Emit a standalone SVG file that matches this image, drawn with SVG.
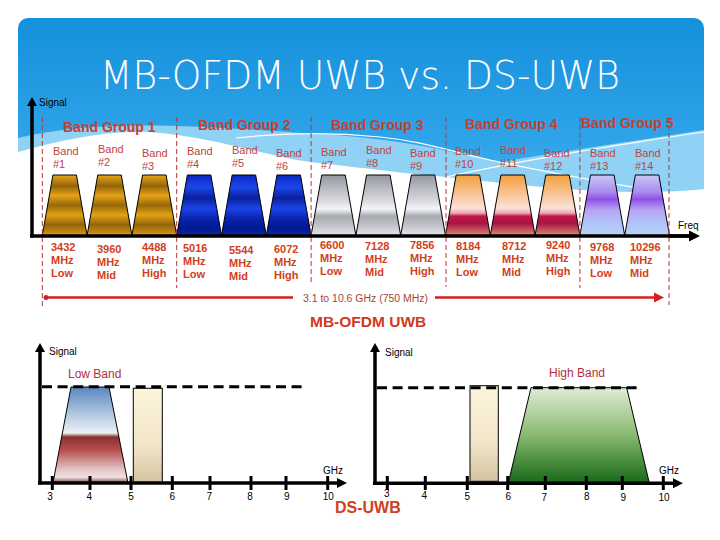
<svg xmlns="http://www.w3.org/2000/svg" xmlns:xlink="http://www.w3.org/1999/xlink" width="720" height="540" viewBox="0 0 720 540">
<style>
text{font-family:"Liberation Sans",Arial,sans-serif}
.grp{font-size:14px;font-weight:bold;fill:#c8402c}
.bl{font-size:11px;fill:#c0443a}
.fq{font-size:11px;font-weight:bold;fill:#d04020}
.sm{font-size:10px;fill:#000}
.ax{stroke:#000;stroke-width:3.5;fill:none}
.tk{stroke:#000;stroke-width:3}
.vd{stroke:#c03030;stroke-width:1;stroke-dasharray:5 3}
.dash{stroke:#000;stroke-width:3;stroke-dasharray:10 5.6}
.bar{stroke:#000;stroke-width:1}
</style>
<defs>
<linearGradient id="hdr" x1="0" y1="0" x2="0" y2="1"><stop offset="0" stop-color="#1590dc"/><stop offset="0.5" stop-color="#2ea3e8"/><stop offset="1" stop-color="#5cbcf0"/></linearGradient>
<linearGradient id="g1" x1="0" y1="0" x2="0" y2="1"><stop offset="0" stop-color="#e6a818"/><stop offset="0.18" stop-color="#94640a"/><stop offset="0.34" stop-color="#e4a416"/><stop offset="0.5" stop-color="#98680a"/><stop offset="0.66" stop-color="#e2a214"/><stop offset="0.82" stop-color="#946408"/><stop offset="1" stop-color="#d89a14"/></linearGradient>
<linearGradient id="g2" x1="0" y1="0" x2="0" y2="1"><stop offset="0" stop-color="#0a28c0"/><stop offset="0.2" stop-color="#1c46ea"/><stop offset="0.38" stop-color="#08209c"/><stop offset="0.55" stop-color="#1c44e6"/><stop offset="0.72" stop-color="#0a24b0"/><stop offset="0.88" stop-color="#001890"/><stop offset="1" stop-color="#0a2aa8"/></linearGradient>
<linearGradient id="g3" x1="0" y1="0" x2="0" y2="1"><stop offset="0" stop-color="#94989f"/><stop offset="0.45" stop-color="#dcdde2"/><stop offset="0.56" stop-color="#f6f6f8"/><stop offset="0.68" stop-color="#a8aab2"/><stop offset="0.85" stop-color="#c4c6cc"/><stop offset="1" stop-color="#e6e6ea"/></linearGradient>
<linearGradient id="g4" x1="0" y1="0" x2="0" y2="1"><stop offset="0" stop-color="#f4a040"/><stop offset="0.3" stop-color="#f8c290"/><stop offset="0.55" stop-color="#fae2da"/><stop offset="0.63" stop-color="#f0a4b4"/><stop offset="0.68" stop-color="#c01848"/><stop offset="0.8" stop-color="#a81448"/><stop offset="0.92" stop-color="#c85a60"/><stop offset="1" stop-color="#e0906a"/></linearGradient>
<linearGradient id="g5" x1="0" y1="0" x2="0" y2="1"><stop offset="0" stop-color="#c8c8f4"/><stop offset="0.28" stop-color="#aa8cf0"/><stop offset="0.4" stop-color="#9050e8"/><stop offset="0.58" stop-color="#b8a4f2"/><stop offset="0.8" stop-color="#b0c4f8"/><stop offset="1" stop-color="#b8d0f8"/></linearGradient>
<linearGradient id="lowb" x1="0" y1="0" x2="0" y2="1"><stop offset="0" stop-color="#5a88c0"/><stop offset="0.48" stop-color="#eef2f6"/><stop offset="0.52" stop-color="#8c3030"/><stop offset="0.66" stop-color="#b85050"/><stop offset="0.85" stop-color="#e0c0c0"/><stop offset="0.94" stop-color="#f0e2e2"/><stop offset="1" stop-color="#7a4040"/></linearGradient>
<linearGradient id="beige" x1="0" y1="0" x2="0" y2="1"><stop offset="0" stop-color="#fdf4dc"/><stop offset="0.6" stop-color="#f2e6c8"/><stop offset="1" stop-color="#d2c2a0"/></linearGradient>
<linearGradient id="green" x1="0" y1="0" x2="0" y2="1"><stop offset="0" stop-color="#e0ecd6"/><stop offset="0.5" stop-color="#88b870"/><stop offset="1" stop-color="#186818"/></linearGradient>
<polygon id="tz" points="0,60.5 10.65,0 34.15,0 44.8,60.5"/>
</defs>

<g id="header">
<rect x="18" y="18" width="686" height="240" rx="10" fill="url(#hdr)"/>
<path d="M18,138 C100,118 200,126 318,134 C400,138 450,152 500,162 C560,152 640,140 704,130 L704,260 L18,260 Z" fill="#8fd2f6"/>
<path d="M18,152 C60,140 110,130 150,132 C220,138 260,155 310,162 C380,170 420,175 446,177 C500,183 550,189 600,191 C640,193 680,192 704,189 L704,262 L18,262 Z" fill="#fff"/>
<path d="M236,138 C280,133 330,132 380,137 C420,141 446,150 490,160 C560,175 620,185 668,193" fill="none" stroke="#fff" stroke-width="1.2"/>
<path d="M446,177 C500,165 560,155 600,148 C640,142 680,135 704,132" fill="none" stroke="#fff" stroke-width="1.2"/>
<text x="100" y="89" font-size="39" font-weight="200" fill="#fff" textLength="520" lengthAdjust="spacingAndGlyphs" style="font-family:'DejaVu Sans','Liberation Sans',sans-serif">MB-OFDM UWB vs. DS-UWB</text>
</g>

<g id="mbofdm-bands">
<g stroke="#000" stroke-width="1">
<use xlink:href="#tz" x="42.3" y="175" fill="url(#g1)"/>
<use xlink:href="#tz" x="87.1" y="175" fill="url(#g1)"/>
<use xlink:href="#tz" x="131.9" y="175" fill="url(#g1)"/>
<use xlink:href="#tz" x="176.7" y="175" fill="url(#g2)"/>
<use xlink:href="#tz" x="221.5" y="175" fill="url(#g2)"/>
<use xlink:href="#tz" x="266.3" y="175" fill="url(#g2)"/>
<use xlink:href="#tz" x="311.1" y="175" fill="url(#g3)"/>
<use xlink:href="#tz" x="355.9" y="175" fill="url(#g3)"/>
<use xlink:href="#tz" x="400.7" y="175" fill="url(#g3)"/>
<use xlink:href="#tz" x="445.5" y="175" fill="url(#g4)"/>
<use xlink:href="#tz" x="490.3" y="175" fill="url(#g4)"/>
<use xlink:href="#tz" x="535.1" y="175" fill="url(#g4)"/>
<use xlink:href="#tz" x="579.9" y="175" fill="url(#g5)"/>
<use xlink:href="#tz" x="624.7" y="175" fill="url(#g5)"/>
</g>
</g>

<g id="group-dividers">
<line class="vd" x1="42.3" y1="117" x2="42.3" y2="307"/>
<line class="vd" x1="176.7" y1="117" x2="176.7" y2="288"/>
<line class="vd" x1="311.1" y1="117" x2="311.1" y2="285"/>
<line class="vd" x1="446" y1="117" x2="446" y2="287"/>
<line class="vd" x1="579.9" y1="117" x2="579.9" y2="288"/>
<line class="vd" x1="669" y1="117" x2="669" y2="305"/>
</g>

<g id="top-axes">
<line class="ax" x1="32" y1="104" x2="32" y2="237.5" stroke-width="4"/>
<polygon points="32,97 27,106 37,106"/>
<line class="ax" x1="30" y1="236" x2="690" y2="236" stroke-width="3"/>
<line class="ax" x1="669" y1="236" x2="690" y2="236" stroke-width="4.5"/>
<polygon points="700,236 689,230.5 689,241.5"/>
<text class="sm" x="39" y="106">Signal</text>
<text class="sm" x="678" y="229">Freq</text>
</g>

<g id="group-labels">
<text class="grp" x="63" y="131.5">Band Group 1</text>
<text class="grp" x="198" y="130">Band Group 2</text>
<text class="grp" x="331" y="130">Band Group 3</text>
<text class="grp" x="465" y="128.5">Band Group 4</text>
<text class="grp" x="581" y="127.5">Band Group 5</text>
</g>

<g id="band-labels" class="bl">
<text class="bl" x="53" y="155">Band<tspan x="53" dy="13">#1</tspan></text>
<text class="bl" x="98" y="153">Band<tspan x="98" dy="13">#2</tspan></text>
<text class="bl" x="142" y="157">Band<tspan x="142" dy="13">#3</tspan></text>
<text class="bl" x="187" y="155">Band<tspan x="187" dy="13">#4</tspan></text>
<text class="bl" x="232" y="154">Band<tspan x="232" dy="13">#5</tspan></text>
<text class="bl" x="276" y="157">Band<tspan x="276" dy="13">#6</tspan></text>
<text class="bl" x="321" y="156">Band<tspan x="321" dy="13">#7</tspan></text>
<text class="bl" x="366" y="154">Band<tspan x="366" dy="13">#8</tspan></text>
<text class="bl" x="410" y="157">Band<tspan x="410" dy="13">#9</tspan></text>
<text class="bl" x="455" y="155">Band<tspan x="455" dy="13">#10</tspan></text>
<text class="bl" x="500" y="154">Band<tspan x="500" dy="13">#11</tspan></text>
<text class="bl" x="544" y="157">Band<tspan x="544" dy="13">#12</tspan></text>
<text class="bl" x="590" y="157">Band<tspan x="590" dy="13">#13</tspan></text>
<text class="bl" x="635" y="157">Band<tspan x="635" dy="13">#14</tspan></text>
</g>

<g id="freq-labels">
<text class="fq" x="51" y="251">3432<tspan x="51" dy="13">MHz</tspan><tspan x="51" dy="13">Low</tspan></text>
<text class="fq" x="97" y="252.5">3960<tspan x="97" dy="13">MHz</tspan><tspan x="97" dy="13">Mid</tspan></text>
<text class="fq" x="142" y="250.5">4488<tspan x="142" dy="13">MHz</tspan><tspan x="142" dy="13">High</tspan></text>
<text class="fq" x="183" y="252">5016<tspan x="183" dy="13">MHz</tspan><tspan x="183" dy="13">Low</tspan></text>
<text class="fq" x="229" y="253.5">5544<tspan x="229" dy="13">MHz</tspan><tspan x="229" dy="13">Mid</tspan></text>
<text class="fq" x="274" y="253">6072<tspan x="274" dy="13">MHz</tspan><tspan x="274" dy="13">High</tspan></text>
<text class="fq" x="320" y="249">6600<tspan x="320" dy="13">MHz</tspan><tspan x="320" dy="13">Low</tspan></text>
<text class="fq" x="365" y="249.5">7128<tspan x="365" dy="13">MHz</tspan><tspan x="365" dy="13">Mid</tspan></text>
<text class="fq" x="410" y="248.5">7856<tspan x="410" dy="13">MHz</tspan><tspan x="410" dy="13">High</tspan></text>
<text class="fq" x="456" y="249.5">8184<tspan x="456" dy="13">MHz</tspan><tspan x="456" dy="13">Low</tspan></text>
<text class="fq" x="502" y="249.5">8712<tspan x="502" dy="13">MHz</tspan><tspan x="502" dy="13">Mid</tspan></text>
<text class="fq" x="546" y="248.5">9240<tspan x="546" dy="13">MHz</tspan><tspan x="546" dy="13">High</tspan></text>
<text class="fq" x="590" y="250.5">9768<tspan x="590" dy="13">MHz</tspan><tspan x="590" dy="13">Low</tspan></text>
<text class="fq" x="630" y="251">10296<tspan x="630" dy="13">MHz</tspan><tspan x="630" dy="13">Mid</tspan></text>
</g>

<g id="range-arrow">
<line x1="44" y1="297.5" x2="293" y2="297.5" stroke="#d42020" stroke-width="2.5"/>
<circle cx="46" cy="297.5" r="2.5" fill="#d42020"/>
<line x1="435" y1="297.5" x2="656" y2="297.5" stroke="#d42020" stroke-width="2.5"/>
<polygon points="664,297.5 654,292.5 654,302.5" fill="#d42020"/>
<text x="303" y="301.5" font-size="10" fill="#a84434" textLength="125" lengthAdjust="spacingAndGlyphs">3.1 to 10.6 GHz (750 MHz)</text>
<text x="310" y="326.5" font-size="15.5" font-weight="bold" fill="#d03a20">MB-OFDM UWB</text>
</g>

<g id="ds-low-chart">
<polygon class="bar" points="53,483 71,387 109,387 128,483" fill="url(#lowb)" stroke-width="0.8"/>
<rect class="bar" x="133.3" y="388.3" width="29" height="94.7" fill="url(#beige)" stroke-width="0.8"/>
<line class="dash" x1="42" y1="386.7" x2="305" y2="386.7"/>
<line class="ax" x1="40" y1="350" x2="40" y2="484.5"/>
<polygon points="40,343 35,352 45,352"/>
<line class="ax" x1="38" y1="483" x2="338" y2="483"/>
<polygon points="347,483 337,478 337,488"/>
<g class="tk">
<line x1="52.3" y1="476" x2="52.3" y2="490"/><line x1="90" y1="476" x2="90" y2="490"/><line x1="131" y1="476" x2="131" y2="490"/><line x1="172.3" y1="476" x2="172.3" y2="490"/><line x1="210" y1="476" x2="210" y2="490"/><line x1="251" y1="476" x2="251" y2="490"/><line x1="286" y1="476" x2="286" y2="490"/><line x1="327.7" y1="476" x2="327.7" y2="490"/>
</g>
<g class="sm" text-anchor="middle">
<text class="sm" x="50" y="500">3</text><text class="sm" x="89.3" y="500">4</text><text class="sm" x="131" y="500">5</text><text class="sm" x="172.3" y="500">6</text><text class="sm" x="209.3" y="500">7</text><text class="sm" x="250" y="500">8</text><text class="sm" x="286.7" y="500">9</text><text class="sm" x="328.3" y="500">10</text>
</g>
<text class="sm" x="49" y="355">Signal</text>
<text class="sm" x="323" y="474">GHz</text>
<text x="68" y="378" font-size="12" fill="#b03040">Low Band</text>
</g>

<g id="ds-high-chart">
<rect class="bar" x="470" y="385.7" width="28.3" height="95.6" fill="url(#beige)" stroke-width="0.8"/>
<polygon class="bar" points="508.3,483 531,387.7 626.7,387.7 649.3,483" fill="url(#green)" stroke-width="0.8"/>
<line class="dash" x1="377" y1="387.7" x2="640" y2="387.7"/>
<line class="ax" x1="375" y1="350" x2="375" y2="485"/>
<polygon points="375,343 370,352 380,352"/>
<line class="ax" x1="373" y1="483.3" x2="673" y2="483.3"/>
<polygon points="683,483.3 673,478.3 673,488.3"/>
<g class="tk">
<line x1="387.3" y1="476" x2="387.3" y2="490"/><line x1="425.3" y1="476" x2="425.3" y2="490"/><line x1="467.3" y1="476" x2="467.3" y2="490"/><line x1="507.7" y1="476" x2="507.7" y2="490"/><line x1="545.3" y1="476" x2="545.3" y2="490"/><line x1="586.3" y1="476" x2="586.3" y2="490"/><line x1="622.3" y1="476" x2="622.3" y2="490"/><line x1="663.3" y1="476" x2="663.3" y2="490"/>
</g>
<g class="sm" text-anchor="middle">
<text class="sm" x="386.7" y="497">3</text><text class="sm" x="424.3" y="499">4</text><text class="sm" x="467.3" y="500">5</text><text class="sm" x="508.3" y="500">6</text><text class="sm" x="544.3" y="501">7</text><text class="sm" x="586.7" y="500">8</text><text class="sm" x="623.3" y="501">9</text><text class="sm" x="664" y="501">10</text>
</g>
<text class="sm" x="385" y="356">Signal</text>
<text class="sm" x="659" y="474">GHz</text>
<text x="549" y="377" font-size="12" fill="#b03040">High Band</text>
<text x="335" y="513" font-size="16" font-weight="bold" fill="#d04020">DS-UWB</text>
</g>
</svg>
